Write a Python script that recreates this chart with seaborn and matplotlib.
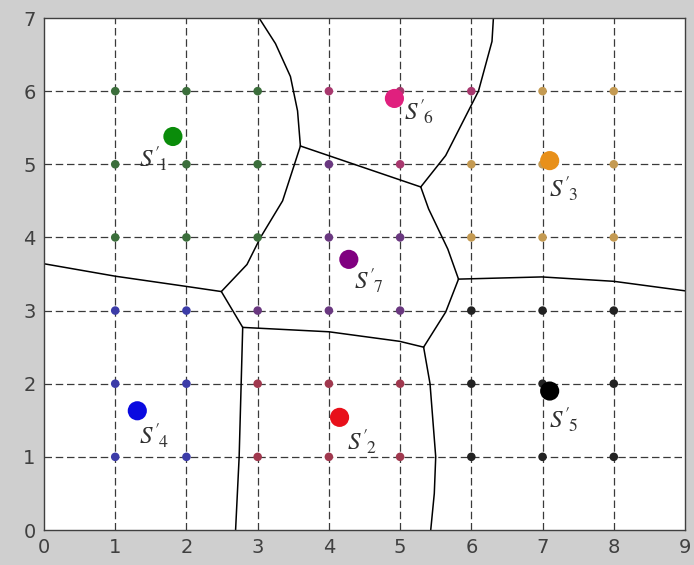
import numpy as np
import pandas as pd
import matplotlib
matplotlib.use("Agg")
import matplotlib.pyplot as plt
import seaborn as sb

# grid points, grouped by the cluster they belong to
grid_x = [1, 2, 3, 1, 2, 3, 1, 2, 3,
          4, 5, 6, 5,
          7, 8, 6, 7, 8, 6, 7, 8,
          4, 4, 5, 3, 4, 5,
          1, 2, 1, 2, 1, 2,
          3, 4, 5, 3, 4, 5,
          6, 7, 8, 6, 7, 8, 6, 7, 8]
grid_y = [6, 6, 6, 5, 5, 5, 4, 4, 4,
          6, 6, 6, 5,
          6, 6, 5, 5, 5, 4, 4, 4,
          5, 4, 4, 3, 3, 3,
          3, 3, 2, 2, 1, 1,
          2, 2, 2, 1, 1, 1,
          3, 3, 3, 2, 2, 2, 1, 1, 1]
grid_cluster = (["1"] * 9 + ["6"] * 4 + ["3"] * 8 + ["7"] * 6
                + ["4"] * 6 + ["2"] * 6 + ["5"] * 9)

# cluster centres
centre_names = ["1", "2", "3", "4", "5", "6", "7"]
centre_x = [1.81, 4.15, 7.10, 1.31, 7.10, 4.92, 4.28]
centre_y = [5.38, 1.54, 5.05, 1.63, 1.90, 5.90, 3.70]
label_x = [1.54, 4.46, 7.30, 1.54, 7.30, 5.26, 4.56]
label_y = [5.07, 1.21, 4.66, 1.28, 1.51, 5.72, 3.40]

# boundary curves between the cells
boundaries = [
    [(0, 3.64), (1, 3.47), (2, 3.33), (2.49, 3.26)],
    [(2.49, 3.26), (2.85, 3.63), (3.04, 4.0), (3.35, 4.5), (3.6, 5.25)],
    [(3.6, 5.25), (3.56, 5.73), (3.46, 6.2), (3.25, 6.65), (3.02, 7.0)],
    [(3.6, 5.25), (5.29, 4.69)],
    [(5.29, 4.69), (5.64, 5.12), (6.1, 6.0), (6.29, 6.68), (6.31, 7.0)],
    [(5.29, 4.69), (5.4, 4.39), (5.67, 3.84), (5.82, 3.43)],
    [(5.82, 3.43), (5.64, 2.98), (5.33, 2.50)],
    [(5.82, 3.43), (6.99, 3.46), (8, 3.40), (9, 3.27)],
    [(2.49, 3.26), (2.79, 2.77)],
    [(2.79, 2.77), (2.74, 1.0), (2.69, 0)],
    [(2.79, 2.77), (4.0, 2.71), (4.99, 2.58), (5.33, 2.50)],
    [(5.33, 2.50), (5.42, 2.0), (5.5, 1.0), (5.48, 0.5), (5.43, 0)],
]

dot_colors = {"1": "#3b6e3b", "2": "#a0384e", "3": "#c49a52", "4": "#3c3ca8",
              "5": "#222222", "6": "#a8386e", "7": "#6a3880"}
centre_colors = {"1": "#0a8c0a", "2": "#e8101a", "3": "#e8901a", "4": "#0a0ae0",
                 "5": "#000000", "6": "#e0207e", "7": "#800080"}

grid_df = pd.DataFrame({"x": grid_x, "y": grid_y, "cluster": grid_cluster})
centre_df = pd.DataFrame({"x": centre_x, "y": centre_y, "cluster": centre_names})

sb.set_style("white")
plt.rcParams["mathtext.fontset"] = "stix"

fig = plt.figure(figsize=(6.94, 5.65), dpi=100, facecolor="#cfcfcf")
ax = fig.add_axes([44 / 694, 35 / 565, 641 / 694, 512 / 565])
ax.set_facecolor("white")

for xv in range(1, 9):
    ax.axvline(xv, color="#3a3a3a", lw=0.9, ls=(0, (6, 3)), zorder=1)
for yv in range(1, 7):
    ax.axhline(yv, color="#3a3a3a", lw=0.9, ls=(0, (6, 3)), zorder=1)

for pts in boundaries:
    bx = [p[0] for p in pts]
    by = [p[1] for p in pts]
    ax.plot(bx, by, color="black", lw=1.1, zorder=2)

sb.scatterplot(data=grid_df, x="x", y="y", hue="cluster", palette=dot_colors,
               s=38, edgecolor="none", legend=False, ax=ax, zorder=3)
sb.scatterplot(data=centre_df, x="x", y="y", hue="cluster", palette=centre_colors,
               s=190, edgecolor="none", legend=False, ax=ax, zorder=4)

for name, lx, ly in zip(centre_names, label_x, label_y):
    ax.text(lx, ly, "$S'_{\\!%s}$" % name, fontsize=18, color="#303030",
            ha="center", va="center", zorder=5)

ax.set_xlim(0, 9)
ax.set_ylim(0, 7)
ax.set_xticks(range(0, 10))
ax.set_yticks(range(0, 8))
ax.set_xlabel("")
ax.set_ylabel("")
ax.tick_params(direction="in", length=4, labelsize=14, labelcolor="#404040",
               color="#404040", pad=6)
for sp in ax.spines.values():
    sp.set_color("#404040")
    sp.set_linewidth(1.0)

plt.savefig("out.png", dpi=100, facecolor=fig.get_facecolor())
